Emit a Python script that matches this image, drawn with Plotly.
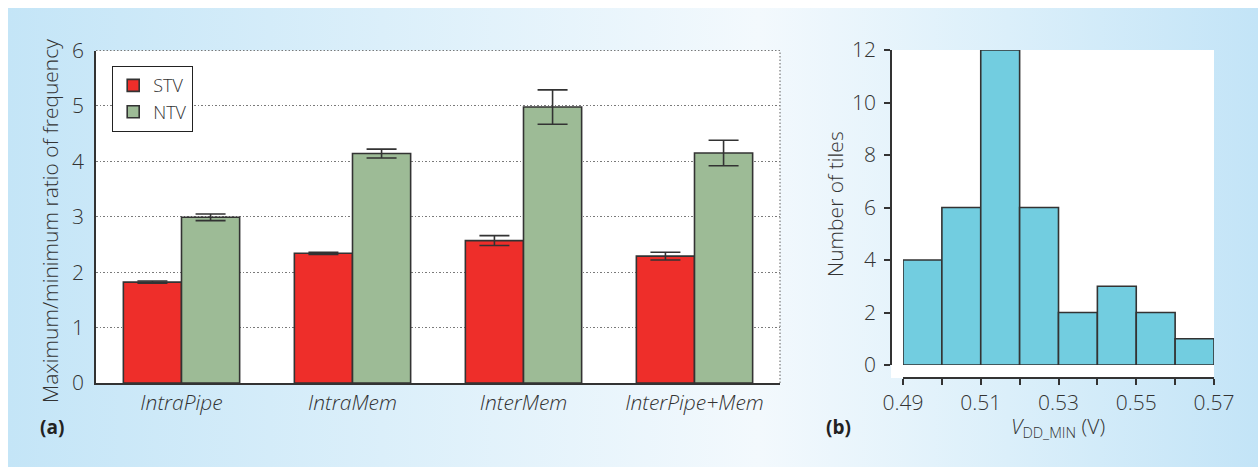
import urllib.parse
import plotly.graph_objects as go

# ---- data -------------------------------------------------------------
categories = ["IntraPipe", "IntraMem", "InterMem", "InterPipe+Mem"]
stv_ratio = [1.82, 2.34, 2.57, 2.29]
stv_err = [0.02, 0.02, 0.09, 0.07]
ntv_ratio = [2.99, 4.14, 4.98, 4.15]
ntv_err = [0.06, 0.08, 0.31, 0.23]

vdd_bin_edges = [0.49, 0.50, 0.51, 0.52, 0.53, 0.54, 0.55, 0.56, 0.57]
tile_counts = [4, 6, 12, 6, 2, 3, 2, 1]

x_label_vals = [0.49, 0.51, 0.53, 0.55, 0.57]
x_label_text = ["0.49", "0.51", "0.53", "0.55", "0.57"]
x_minor_vals = [0.50, 0.52, 0.54, 0.56]
tile_ticks = [0, 2, 4, 6, 8, 10, 12]
ratio_ticks = [0, 1, 2, 3, 4, 5, 6]

# ---- canvas geometry (pixels) -------------------------------------------
W, H = 1258, 467
FONT = "Open Sans"
TXT = "#333333"
AXC = "#333333"
GRID = "#7a7a7a"
DOTS = "1.5px,2px"
FS = 21


def px(x):
    return x / W


def py(y):
    return (H - y) / H


def font(size, **kw):
    return dict(family=FONT, size=size, color=kw.pop("color", TXT), weight=kw.pop("weight", 300), **kw)


bin_centers = [(a + b) / 2 for a, b in zip(vdd_bin_edges[:-1], vdd_bin_edges[1:])]
bin_widths = [b - a for a, b in zip(vdd_bin_edges[:-1], vdd_bin_edges[1:])]

fig = go.Figure()

fig.add_trace(go.Bar(
    name="STV", x=categories, y=stv_ratio,
    error_y=dict(type="data", array=stv_err, color=AXC, thickness=1.6, width=15),
    marker=dict(color="#ee2e2a", line=dict(color=AXC, width=1.6)),
    xaxis="x", yaxis="y",
))
fig.add_trace(go.Bar(
    name="NTV", x=categories, y=ntv_ratio,
    error_y=dict(type="data", array=ntv_err, color=AXC, thickness=1.6, width=15),
    marker=dict(color="#9dbb96", line=dict(color=AXC, width=1.6)),
    xaxis="x", yaxis="y",
))
fig.add_trace(go.Bar(
    x=bin_centers, y=tile_counts, width=bin_widths, showlegend=False,
    marker=dict(color="#72cde0", line=dict(color=AXC, width=1.6)),
    xaxis="x2", yaxis="y2",
))

# light-blue panel behind both charts
grad_svg = (
    "<svg xmlns='http://www.w3.org/2000/svg' width='1250' height='459' preserveAspectRatio='none'>"
    "<defs><linearGradient id='g' x1='0' y1='0' x2='1' y2='0'>"
    "<stop offset='0' stop-color='#c4e5f7'/>"
    "<stop offset='0.3' stop-color='#dbeffa'/>"
    "<stop offset='0.6' stop-color='#f3f9fd'/>"
    "<stop offset='0.8' stop-color='#dbeffa'/>"
    "<stop offset='1' stop-color='#c3e4f7'/>"
    "</linearGradient></defs>"
    "<rect width='1250' height='459' fill='url(#g)'/></svg>"
)
grad_uri = "data:image/svg+xml;charset=utf-8," + urllib.parse.quote(grad_svg)

shapes = [
    # white plotting areas
    dict(type="rect", xref="paper", yref="paper", x0=px(96), x1=px(780), y0=py(383), y1=py(50.5),
         fillcolor="white", line=dict(width=0), layer="below"),
    dict(type="rect", xref="paper", yref="paper", x0=px(891), x1=px(1214), y0=py(378), y1=py(50),
         fillcolor="white", line=dict(width=0), layer="below"),
    # dotted frame of the bar chart (top and right)
    dict(type="line", xref="paper", yref="paper", x0=px(96), x1=px(780), y0=py(50.5), y1=py(50.5),
         line=dict(color=GRID, width=1.2, dash=DOTS), layer="below"),
    dict(type="line", xref="paper", yref="paper", x0=px(780), x1=px(780), y0=py(383), y1=py(50.5),
         line=dict(color=GRID, width=1.2, dash=DOTS), layer="below"),
]

annotations = [
    dict(text="Maximum/minimum ratio of frequency", xref="paper", yref="paper",
         x=px(50), y=py(221), textangle=-90, showarrow=False,
         font=font(FS), xanchor="center", yanchor="middle"),
    dict(text="<b>(a)</b>", xref="paper", yref="paper", x=px(52), y=py(427), showarrow=False,
         font=font(19, color="#222", weight=700), xanchor="center", yanchor="middle"),
    dict(text="Number of tiles", xref="paper", yref="paper",
         x=px(835), y=py(204), textangle=-90, showarrow=False,
         font=font(FS), xanchor="center", yanchor="middle"),
    dict(text="<b>(b)</b>", xref="paper", yref="paper", x=px(838), y=py(427), showarrow=False,
         font=font(19, color="#222", weight=700), xanchor="center", yanchor="middle"),
    dict(text="<i>V</i><sub>DD_MIN</sub> (V)", xref="paper", yref="paper",
         x=px(1058), y=py(427), showarrow=False,
         font=font(FS), xanchor="center", yanchor="middle"),
]

fig.update_layout(
    width=W, height=H,
    margin=dict(l=0, r=0, t=0, b=0, autoexpand=False),
    paper_bgcolor="white",
    plot_bgcolor="rgba(0,0,0,0)",
    barmode="group", bargap=0.32, bargroupgap=0,
    font=font(FS),
    images=[dict(source=grad_uri, xref="paper", yref="paper", x=px(8), y=py(8),
                 sizex=1250 / W, sizey=459 / H, xanchor="left", yanchor="top",
                 sizing="stretch", layer="below")],
    shapes=shapes,
    annotations=annotations,
    legend=dict(x=px(112), y=py(66), xanchor="left", yanchor="top",
                bgcolor="white", bordercolor="#222", borderwidth=1.2,
                font=font(18), tracegroupgap=4),
    xaxis=dict(domain=[px(96), px(780)], range=[-0.5, 3.5], anchor="y", automargin=False,
               showline=True, linecolor=AXC, linewidth=1.6, ticks="",
               tickfont=font(FS, style="italic"),
               ticklabelstandoff=0, showgrid=False, fixedrange=True),
    yaxis=dict(domain=[py(383), py(50.5)], range=[0, 6], anchor="x", automargin=False,
               showline=True, linecolor=AXC, linewidth=1.6, ticks="",
               tickvals=ratio_ticks, ticklabelstandoff=6, tickfont=font(FS),
               showgrid=True, gridcolor=GRID, griddash=DOTS, gridwidth=1.2,
               zeroline=False, fixedrange=True),
    xaxis2=dict(domain=[px(903), px(1214)], range=[0.49, 0.57], anchor="free", automargin=False,
                position=py(378), showline=True, linecolor=AXC, linewidth=1.6,
                ticks="outside", ticklen=6, tickwidth=1.6, tickcolor=AXC,
                tickvals=x_label_vals, ticktext=x_label_text, ticklabelstandoff=0,
                tickfont=font(FS),
                minor=dict(tickvals=x_minor_vals, ticks="outside", ticklen=6,
                           tickwidth=1.6, tickcolor=AXC, showgrid=False),
                showgrid=False, zeroline=False, fixedrange=True),
    yaxis2=dict(domain=[py(365), py(50)], range=[0, 12], anchor="free", automargin=False,
                position=px(891), showline=True, linecolor=AXC, linewidth=1.6,
                ticks="outside", ticklen=6, tickwidth=1.6, tickcolor=AXC,
                tickvals=tile_ticks, ticklabelstandoff=4, tickfont=font(FS),
                showgrid=False, zeroline=False, fixedrange=True),
)

fig.write_html("out.html")
